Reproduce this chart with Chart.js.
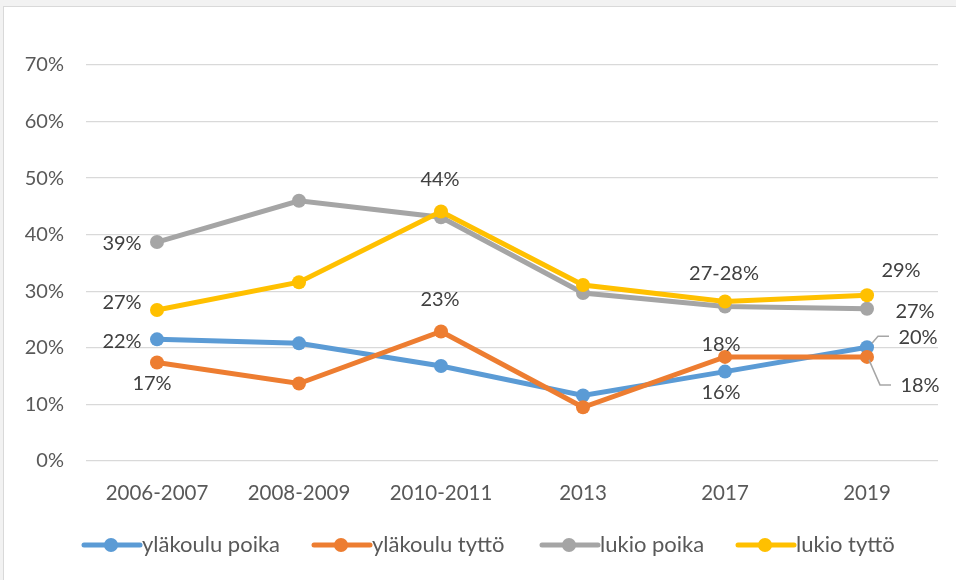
<!DOCTYPE html>
<html><head><meta charset="utf-8">
<script src="https://cdn.jsdelivr.net/npm/chart.js@4.4.1/dist/chart.umd.min.js"></script>
<style>html,body{margin:0;padding:0;background:#fff;}canvas{display:block;}</style>
</head><body>
<canvas id="c" width="956" height="580"></canvas>
<script>
const categories = ['2006-2007','2008-2009','2010-2011','2013','2017','2019'];
const seriesNames = ['yläkoulu poika','yläkoulu tyttö','lukio poika','lukio tyttö'];
const ylakouluPoika = [21.5, 20.8, 16.8, 11.6, 15.8, 20.1];
const ylakouluTytto = [17.4, 13.7, 22.9, 9.5, 18.4, 18.4];
const lukioPoika = [38.7, 46.0, 43.1, 29.7, 27.3, 26.9];
const lukioTytto = [26.7, 31.6, 44.1, 31.1, 28.2, 29.3];
const yTicks = [0,10,20,30,40,50,60,70];
// data labels: [series index, category index, text]
const dataLabels = [
  [2,0,'39%'],[3,0,'27%'],[0,0,'22%'],[1,0,'17%'],
  [3,2,'44%'],[1,2,'23%'],
  [3,4,'27-28%'],[1,4,'18%'],[0,4,'16%'],
  [3,5,'29%'],[2,5,'27%'],[0,5,'20%'],[1,5,'18%']
];

const colors = ['#5B9BD5','#ED7D31','#A5A5A5','#FFC000'];
const labelOffsets = [
  [-35,1],[-35,-7],[-35,2],[-5,21],
  [-1,-32],[-1,-32],
  [-1,-28],[-4,-12],[-4,21],
  [34,-25],[48,3],[51,-10],[53,29]
];
const leaders = {11:[[5,-4],[11,-11],[22,-11]], 12:[[2,3],[13,28],[24,28]]};
const FONT = 'Lato, "Open Sans", sans-serif';

const bgPlugin = {
  id:'bg',
  beforeDraw(chart){
    const ctx = chart.ctx;
    ctx.save();
    ctx.fillStyle = '#f2f2f2';
    ctx.fillRect(0,0,chart.width,chart.height);
    ctx.fillStyle = '#ffffff';
    ctx.fillRect(4,7,chart.width-4,chart.height-7);
    ctx.strokeStyle = '#d9d9d9';
    ctx.lineWidth = 1;
    ctx.strokeRect(3.5,6.5,chart.width,chart.height);
    ctx.restore();
  }
};

const labelPlugin = {
  id:'dlabels',
  afterDatasetsDraw(chart){
    const ctx = chart.ctx;
    ctx.save();
    ctx.font = '20px ' + FONT;
    ctx.fillStyle = '#404040';
    ctx.textAlign = 'center';
    ctx.textBaseline = 'middle';
    dataLabels.forEach((d,i)=>{
      const pt = chart.getDatasetMeta(d[0]).data[d[1]];
      const off = labelOffsets[i];
      if (leaders[i]) {
        ctx.strokeStyle = '#a6a6a6';
        ctx.lineWidth = 1.5;
        ctx.beginPath();
        leaders[i].forEach((p,k)=>{ if(k===0) ctx.moveTo(pt.x+p[0],pt.y+p[1]); else ctx.lineTo(pt.x+p[0],pt.y+p[1]); });
        ctx.stroke();
      }
      ctx.fillText(d[2], pt.x+off[0], pt.y+off[1]);
    });
    ctx.restore();
  }
};

const legendPlugin = {
  id:'customLegend',
  afterDraw(chart){
    const ctx = chart.ctx;
    ctx.save();
    ctx.font = '22px ' + FONT;
    ctx.textBaseline = 'middle';
    ctx.textAlign = 'left';
    const y = 545;
    const starts = [84, 314, 542, 738];
    seriesNames.forEach((n,i)=>{
      const x0 = starts[i];
      ctx.strokeStyle = colors[i];
      ctx.lineWidth = 5;
      ctx.lineCap = 'round';
      ctx.beginPath(); ctx.moveTo(x0,y); ctx.lineTo(x0+56,y); ctx.stroke();
      ctx.fillStyle = colors[i];
      ctx.beginPath(); ctx.arc(x0+27,y,7,0,Math.PI*2); ctx.fill();
      ctx.fillStyle = '#595959';
      ctx.fillText(n, x0+58, y);
    });
    ctx.restore();
  }
};

const series = [ylakouluPoika, ylakouluTytto, lukioPoika, lukioTytto];
new Chart(document.getElementById('c'), {
  type:'line',
  data:{
    labels: categories,
    datasets: series.map((s,i)=>({
      label: seriesNames[i],
      data: s,
      borderColor: colors[i],
      backgroundColor: colors[i],
      borderWidth: 5,
      pointRadius: 7,
      pointHoverRadius: 7,
      pointBorderWidth: 0,
      tension: 0,
      order: 4-i
    }))
  },
  options:{
    responsive:false,
    animation:false,
    layout:{padding:{top:65,right:18,left:0,bottom:0}},
    plugins:{legend:{display:false},tooltip:{enabled:false}},
    scales:{
      x:{
        offset:true,
        grid:{display:false,drawTicks:false},
        border:{display:false},
        ticks:{color:'#595959',font:{family:FONT,size:20.5},padding:20,maxRotation:0},
        afterFit(s){ s.height = 119; }
      },
      y:{
        min:0,max:70,
        afterBuildTicks(s){ s.ticks = yTicks.map(v=>({value:v})); },
        grid:{color:'#d9d9d9',lineWidth:1.3,drawTicks:false},
        border:{display:false},
        ticks:{color:'#595959',font:{family:FONT,size:20},padding:22,callback:v=>v+'%'},
        afterFit(s){ s.width = 86; }
      }
    }
  },
  plugins:[bgPlugin,labelPlugin,legendPlugin]
});
</script>
</body></html>
